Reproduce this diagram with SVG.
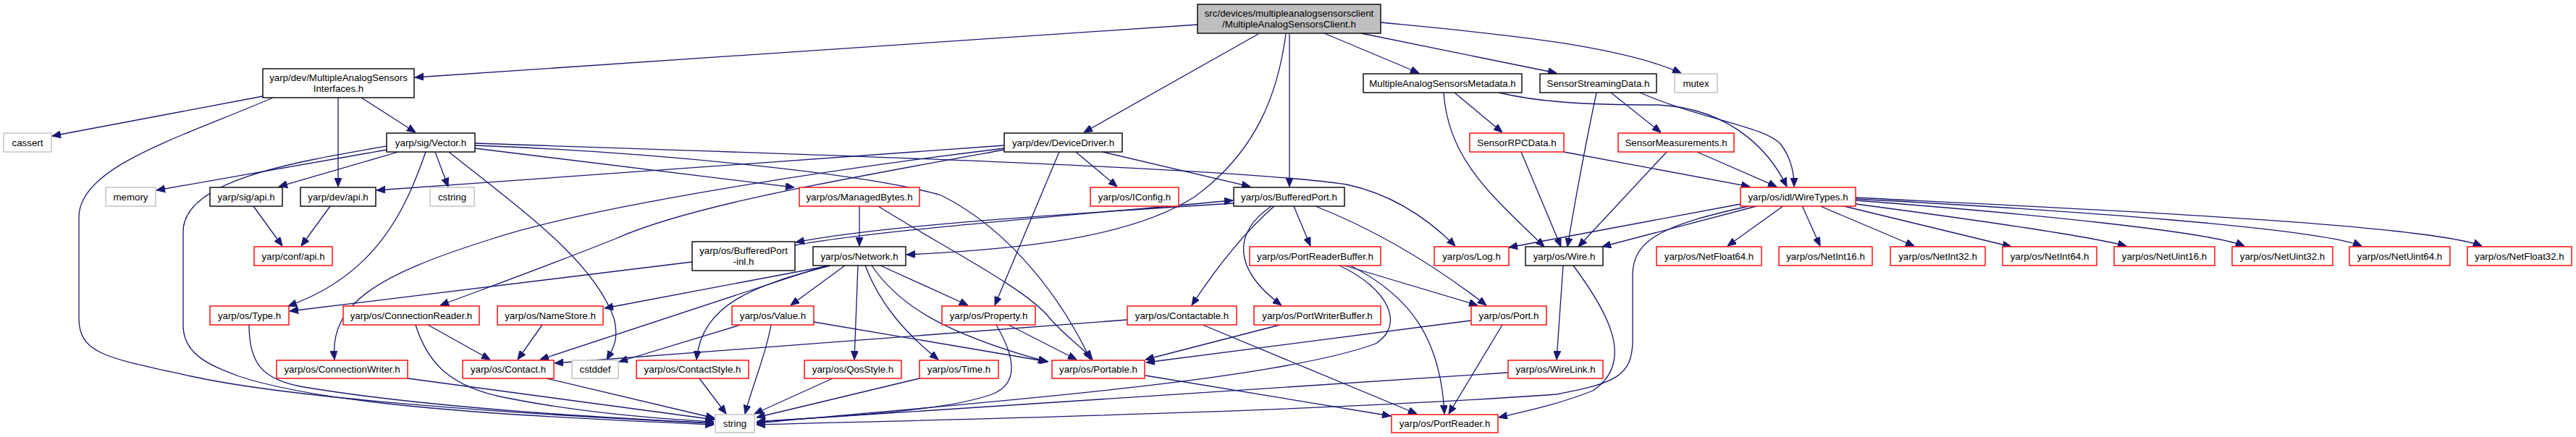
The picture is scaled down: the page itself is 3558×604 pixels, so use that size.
<svg xmlns="http://www.w3.org/2000/svg" width="3558" height="604" viewBox="0 0 3558 604">
<style>
.n rect{fill:#ffffff;stroke-width:1.4}
.b rect{stroke:#000000}
.r rect{stroke:#ff0000}
.g rect{stroke:#bfbfbf}
.root rect{fill:#bfbfbf;stroke:#000000}
text{font-family:"Liberation Sans",Arial,Helvetica,sans-serif;font-size:13.3px;fill:#000000;text-anchor:middle}
#edges path{fill:none;stroke:#191970;stroke-width:1.3;marker-end:url(#ah)}
</style>
<defs>
<marker id="ah" markerWidth="12" markerHeight="10" refX="12" refY="5" orient="auto" markerUnits="userSpaceOnUse">
<path d="M0,0 L12,5 L0,10 z" fill="#191970" stroke="#191970" stroke-width="1"/>
</marker>
</defs>
<rect x="0" y="0" width="3558" height="604" fill="#ffffff"/>
<g id="edges">
<path d="M1654,34 L573,107"/>
<path d="M1738,47 L1497,183"/>
<path d="M1781,47 L1781,258"/>
<path d="M1776,47 C1765,130 1735,210 1650,272 C1560,330 1400,345 1252,352"/>
<path d="M1829,46 L1960,101"/>
<path d="M1880,46 L2150,101"/>
<path d="M1907,31 C2050,45 2230,60 2322,101"/>
<path d="M363,133 L72,188"/>
<path d="M377,135 C250,190 109,230 109,300 L109,440 C109,490 150,495 264,520 C400,550 700,572 986,585"/>
<path d="M467,135 L467,258"/>
<path d="M499,135 L574,183"/>
<path d="M534,207 L216,263"/>
<path d="M550,210 L385,258"/>
<path d="M601,210 L619,258"/>
<path d="M350,285 L390,340"/>
<path d="M456,285 L416,340"/>
<path d="M588,210 C560,290 520,380 398,423"/>
<path d="M620,210 C720,290 820,360 848,440 C856,470 845,485 838,497"/>
<path d="M534,202 C400,225 253,250 253,320 L253,450 C253,490 290,505 330,520 C450,560 700,575 986,587"/>
<path d="M656,198 C1000,210 1700,230 1860,255 C1930,270 1980,310 2010,340"/>
<path d="M656,201 C900,210 1200,240 1300,270 C1400,320 1470,420 1506,497"/>
<path d="M656,205 L1097,259"/>
<path d="M1387,201 L520,263"/>
<path d="M1387,205 C1100,240 800,290 680,330 C520,380 455,420 462,497"/>
<path d="M1387,207 C1150,250 950,285 850,330 C750,370 680,395 608,422"/>
<path d="M1463,210 L1374,422"/>
<path d="M1486,210 L1543,258"/>
<path d="M1523,210 L1727,258"/>
<path d="M1187,285 L1187,340"/>
<path d="M1213,285 C1300,340 1420,400 1450,440 C1475,468 1495,480 1509,497"/>
<path d="M1704,281 C1400,300 1200,315 1099,335"/>
<path d="M1098,339 C1200,320 1450,300 1703,277"/>
<path d="M1760,285 C1720,320 1680,370 1646,422"/>
<path d="M1756,285 C1705,320 1700,370 1770,422"/>
<path d="M1787,285 L1810,340"/>
<path d="M1817,285 C1880,310 1960,350 2053,422"/>
<path d="M956,362 L400,430"/>
<path d="M1167,367 L1092,422"/>
<path d="M1185,367 L1180,497"/>
<path d="M1195,367 C1215,420 1250,460 1296,497"/>
<path d="M1204,367 C1240,420 1300,460 1446,500"/>
<path d="M1216,367 L1337,422"/>
<path d="M1147,367 L835,426"/>
<path d="M1141,367 L746,497"/>
<path d="M1147,367 C1040,395 970,420 962,497"/>
<path d="M1065,449 C1058,490 1040,530 1029,572"/>
<path d="M1023,449 L855,500"/>
<path d="M1124,445 L1448,500"/>
<path d="M1376,449 C1400,490 1410,530 1370,545 C1300,570 1150,575 1045,583"/>
<path d="M1393,449 L1487,497"/>
<path d="M966,523 L1003,572"/>
<path d="M1150,523 L1042,572"/>
<path d="M1270,523 L1045,577"/>
<path d="M1582,519 L1921,575"/>
<path d="M1557,442 L766,502"/>
<path d="M1661,449 L1957,572"/>
<path d="M1768,449 L1582,497"/>
<path d="M1850,367 C1920,400 1940,450 1900,475 C1750,530 1300,560 1045,585"/>
<path d="M1857,367 L2041,422"/>
<path d="M1865,367 C1950,410 1990,470 1995,572"/>
<path d="M2032,443 L1583,501"/>
<path d="M2075,449 L2001,572"/>
<path d="M2159,367 L2150,497"/>
<path d="M2173,367 C2220,430 2260,500 2200,540 C2150,560 2100,570 2070,577"/>
<path d="M2083,515 L1045,583"/>
<path d="M2420,284 C2300,310 2255,330 2255,380 L2255,470 C2255,520 2230,530 2150,545 C1800,570 1300,580 1045,587"/>
<path d="M2404,282 L2084,342"/>
<path d="M2426,285 L2213,341"/>
<path d="M2464,284 L2386,340"/>
<path d="M2489,284 L2514,340"/>
<path d="M2512,284 L2644,340"/>
<path d="M2543,284 L2778,341"/>
<path d="M2556,281 C2700,300 2880,325 2937,340"/>
<path d="M2563,277 C2800,295 3050,320 3100,340"/>
<path d="M2563,275 C2850,290 3200,315 3262,340"/>
<path d="M2563,273 C2900,290 3350,310 3428,340"/>
<path d="M1994,128 C2000,220 2060,270 2133,341"/>
<path d="M2009,128 L2075,183"/>
<path d="M2070,128 C2120,140 2180,145 2290,145 C2400,150 2450,220 2468,258"/>
<path d="M2205,128 C2190,200 2175,280 2165,341"/>
<path d="M2225,128 L2294,183"/>
<path d="M2265,128 C2350,165 2440,175 2460,200 C2475,220 2478,240 2478,258"/>
<path d="M2101,210 L2156,341"/>
<path d="M2160,210 L2417,258"/>
<path d="M2302,210 L2180,341"/>
<path d="M2344,210 L2454,258"/>
<path d="M344,449 C344,500 360,525 420,535 C600,565 850,578 986,585"/>
<path d="M591,449 L677,497"/>
<path d="M574,449 C590,500 620,535 700,550 C800,570 900,578 986,583"/>
<path d="M749,449 L715,497"/>
<path d="M563,523 L987,580"/>
<path d="M755,523 L987,578"/>
</g>
<g id="n0" class="n root"><rect x="1654" y="6" width="253" height="40"/><text x="1780.5" y="22.5">src/devices/multipleanalogsensorsclient</text><text x="1780.5" y="37.5">/MultipleAnalogSensorsClient.h</text></g>
<g id="n1" class="n b"><rect x="363" y="95" width="209" height="40"/><text x="467.5" y="111.5">yarp/dev/MultipleAnalogSensors</text><text x="467.5" y="126.5">Interfaces.h</text></g>
<g id="n2" class="n b"><rect x="1387" y="184" width="163" height="26"/><text x="1468.5" y="201.6">yarp/dev/DeviceDriver.h</text></g>
<g id="n3" class="n b"><rect x="1704" y="259" width="153" height="26"/><text x="1780.5" y="276.6">yarp/os/BufferedPort.h</text></g>
<g id="n4" class="n b"><rect x="1123" y="341" width="128" height="26"/><text x="1187" y="358.6">yarp/os/Network.h</text></g>
<g id="n5" class="n b"><rect x="1883" y="102" width="219" height="26"/><text x="1992.5" y="119.6">MultipleAnalogSensorsMetadata.h</text></g>
<g id="n6" class="n b"><rect x="2127" y="102" width="161" height="26"/><text x="2207.5" y="119.6">SensorStreamingData.h</text></g>
<g id="n7" class="n g"><rect x="2313" y="102" width="59" height="26"/><text x="2342.5" y="119.6">mutex</text></g>
<g id="n8" class="n g"><rect x="5" y="184" width="66" height="26"/><text x="38" y="201.6">cassert</text></g>
<g id="n9" class="n b"><rect x="534" y="184" width="122" height="26"/><text x="595" y="201.6">yarp/sig/Vector.h</text></g>
<g id="n10" class="n g"><rect x="146" y="259" width="69" height="26"/><text x="180.5" y="276.6">memory</text></g>
<g id="n11" class="n b"><rect x="290" y="259" width="100" height="26"/><text x="340" y="276.6">yarp/sig/api.h</text></g>
<g id="n12" class="n b"><rect x="415" y="259" width="104" height="26"/><text x="467" y="276.6">yarp/dev/api.h</text></g>
<g id="n13" class="n g"><rect x="594" y="259" width="61" height="26"/><text x="624.5" y="276.6">cstring</text></g>
<g id="n14" class="n r"><rect x="1104" y="259" width="166" height="26"/><text x="1187" y="276.6">yarp/os/ManagedBytes.h</text></g>
<g id="n15" class="n r"><rect x="1506" y="259" width="122" height="26"/><text x="1567" y="276.6">yarp/os/IConfig.h</text></g>
<g id="n16" class="n r"><rect x="2030" y="184" width="130" height="26"/><text x="2095" y="201.6">SensorRPCData.h</text></g>
<g id="n17" class="n r"><rect x="2235" y="184" width="160" height="26"/><text x="2315" y="201.6">SensorMeasurements.h</text></g>
<g id="n18" class="n r"><rect x="2404" y="259" width="159" height="26"/><text x="2483.5" y="276.6">yarp/os/idl/WireTypes.h</text></g>
<g id="n19" class="n r"><rect x="351" y="341" width="108" height="26"/><text x="405" y="358.6">yarp/conf/api.h</text></g>
<g id="n20" class="n b"><rect x="956" y="334" width="142" height="40"/><text x="1027" y="350.5">yarp/os/BufferedPort</text><text x="1027" y="365.5">-inl.h</text></g>
<g id="n21" class="n r"><rect x="1726" y="341" width="181" height="26"/><text x="1816.5" y="358.6">yarp/os/PortReaderBuffer.h</text></g>
<g id="n22" class="n r"><rect x="1981" y="341" width="103" height="26"/><text x="2032.5" y="358.6">yarp/os/Log.h</text></g>
<g id="n23" class="n b"><rect x="2107" y="341" width="107" height="26"/><text x="2160.5" y="358.6">yarp/os/Wire.h</text></g>
<g id="n24" class="n r"><rect x="2288" y="341" width="145" height="26"/><text x="2360.5" y="358.6">yarp/os/NetFloat64.h</text></g>
<g id="n25" class="n r"><rect x="2457" y="341" width="129" height="26"/><text x="2521.5" y="358.6">yarp/os/NetInt16.h</text></g>
<g id="n26" class="n r"><rect x="2611" y="341" width="131" height="26"/><text x="2676.5" y="358.6">yarp/os/NetInt32.h</text></g>
<g id="n27" class="n r"><rect x="2766" y="341" width="130" height="26"/><text x="2831" y="358.6">yarp/os/NetInt64.h</text></g>
<g id="n28" class="n r"><rect x="2920" y="341" width="139" height="26"/><text x="2989.5" y="358.6">yarp/os/NetUint16.h</text></g>
<g id="n29" class="n r"><rect x="3083" y="341" width="139" height="26"/><text x="3152.5" y="358.6">yarp/os/NetUint32.h</text></g>
<g id="n30" class="n r"><rect x="3245" y="341" width="139" height="26"/><text x="3314.5" y="358.6">yarp/os/NetUint64.h</text></g>
<g id="n31" class="n r"><rect x="3408" y="341" width="144" height="26"/><text x="3480" y="358.6">yarp/os/NetFloat32.h</text></g>
<g id="n32" class="n r"><rect x="290" y="423" width="109" height="26"/><text x="344.5" y="440.6">yarp/os/Type.h</text></g>
<g id="n33" class="n r"><rect x="474" y="423" width="188" height="26"/><text x="568" y="440.6">yarp/os/ConnectionReader.h</text></g>
<g id="n34" class="n r"><rect x="687" y="423" width="146" height="26"/><text x="760" y="440.6">yarp/os/NameStore.h</text></g>
<g id="n35" class="n r"><rect x="1011" y="423" width="113" height="26"/><text x="1067.5" y="440.6">yarp/os/Value.h</text></g>
<g id="n36" class="n r"><rect x="1301" y="423" width="129" height="26"/><text x="1365.5" y="440.6">yarp/os/Property.h</text></g>
<g id="n37" class="n r"><rect x="1557" y="423" width="151" height="26"/><text x="1632.5" y="440.6">yarp/os/Contactable.h</text></g>
<g id="n38" class="n r"><rect x="1732" y="423" width="175" height="26"/><text x="1819.5" y="440.6">yarp/os/PortWriterBuffer.h</text></g>
<g id="n39" class="n r"><rect x="2032" y="423" width="104" height="26"/><text x="2084" y="440.6">yarp/os/Port.h</text></g>
<g id="n40" class="n r"><rect x="382" y="498" width="181" height="25"/><text x="472.5" y="515">yarp/os/ConnectionWriter.h</text></g>
<g id="n41" class="n r"><rect x="639" y="498" width="126" height="25"/><text x="702" y="515">yarp/os/Contact.h</text></g>
<g id="n42" class="n g"><rect x="790" y="498" width="64" height="25"/><text x="822" y="515">cstddef</text></g>
<g id="n43" class="n r"><rect x="879" y="498" width="155" height="25"/><text x="956.5" y="515">yarp/os/ContactStyle.h</text></g>
<g id="n44" class="n r"><rect x="1111" y="498" width="134" height="25"/><text x="1178" y="515">yarp/os/QosStyle.h</text></g>
<g id="n45" class="n r"><rect x="1270" y="498" width="109" height="25"/><text x="1324.5" y="515">yarp/os/Time.h</text></g>
<g id="n46" class="n r"><rect x="1453" y="498" width="128" height="25"/><text x="1517" y="515">yarp/os/Portable.h</text></g>
<g id="n47" class="n r"><rect x="2083" y="498" width="131" height="25"/><text x="2148.5" y="515">yarp/os/WireLink.h</text></g>
<g id="n48" class="n g"><rect x="988" y="573" width="54" height="25"/><text x="1015" y="590">string</text></g>
<g id="n49" class="n r"><rect x="1922" y="573" width="147" height="25"/><text x="1995.5" y="590">yarp/os/PortReader.h</text></g>
</svg>
